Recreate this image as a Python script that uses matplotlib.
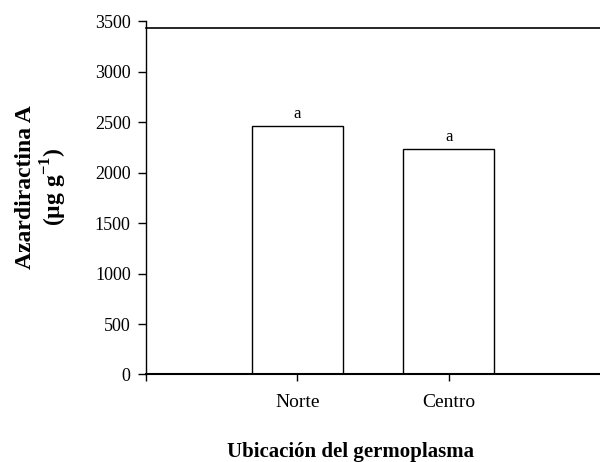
import matplotlib
matplotlib.use("Agg")
import matplotlib.pyplot as plt
import numpy as np

categories = ["Norte", "Centro"]
values = [2463, 2230]
letters = ["a", "a"]
y_ticks = [0, 500, 1000, 1500, 2000, 2500, 3000, 3500]

plt.rcParams['font.family'] = ['Liberation Serif', 'DejaVu Serif']
plt.rcParams['mathtext.fontset'] = 'custom'
plt.rcParams['mathtext.rm'] = 'Liberation Serif'
plt.rcParams['mathtext.bf'] = 'Liberation Serif:bold'

fig = plt.figure(figsize=(6, 4.62), dpi=100)
ax = fig.add_axes([0.2433, 0.1894, 0.7567, 0.7651])

x = np.arange(1, len(categories) + 1)
ax.bar(x, values, width=0.6, color='white', edgecolor='black', linewidth=1.0, zorder=2)
for xi, v, l in zip(x, values, letters):
    ax.text(xi, v + 40, l, ha='center', va='bottom', fontsize=12)

ax.set_xlim(0, 3)
ax.set_ylim(0, 3500)
ax.set_yticks(y_ticks)
ax.set_yticklabels([str(t) for t in y_ticks], fontsize=13)
ax.set_xticks([0, 1, 2])
ax.set_xticklabels([""] + categories, fontsize=14)
ax.tick_params(axis='y', direction='out', length=6, width=1, pad=5)
ax.tick_params(axis='x', direction='out', length=5, width=1, pad=9)

ax.spines['top'].set_visible(False)
ax.spines['right'].set_visible(False)
ax.spines['left'].set_linewidth(1.0)
ax.spines['bottom'].set_linewidth(1.5)
ax.axhline(3430, color='black', linewidth=1.2, clip_on=False)

ax.set_ylabel("Azardiractina A\n(µg g$^{\\mathbf{-1}}$)", fontsize=17, fontweight='bold', linespacing=1.1)
ax.yaxis.set_label_coords(-0.17, 0.53)
ax.set_xlabel("Ubicación del germoplasma", fontsize=15, fontweight='bold')
ax.xaxis.set_label_coords(0.45, -0.19)

fig.savefig("out.png", dpi=100)
